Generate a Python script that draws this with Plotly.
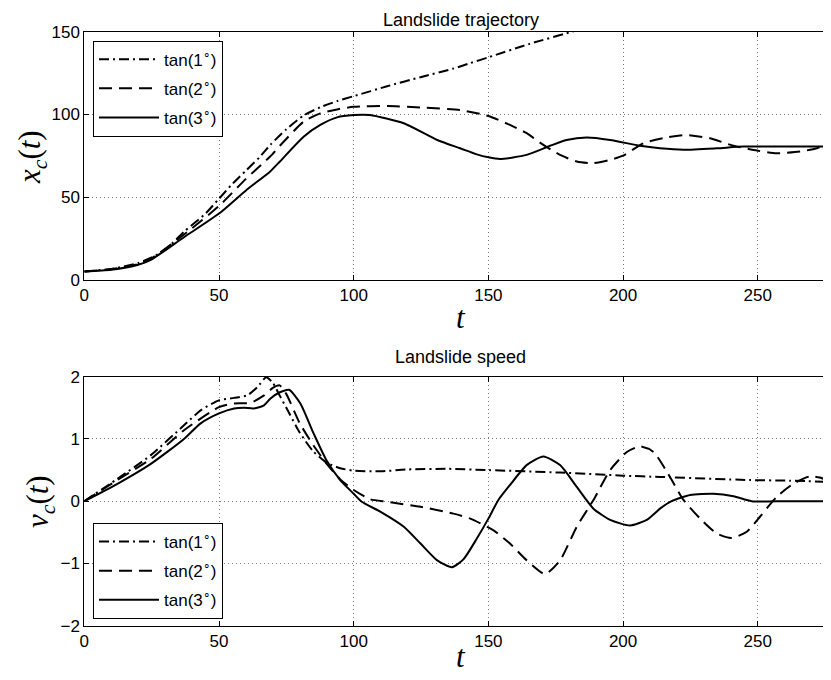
import plotly.graph_objects as go

# ---------------- data: landslide trajectory x_c(t) ----------------
t_x1 = [0, 10, 20, 25, 30, 37, 45, 50, 55, 60, 65, 69, 75, 81.4, 87.6, 93.8, 100,
        112.4, 124.8, 137, 143.3, 150, 165, 182.8, 200]
x1 = [5, 6.5, 10, 13.5, 18, 29, 40, 49, 58, 66, 74, 81.5, 91, 99.3, 104.3, 108, 111,
      117, 122.5, 127.7, 131, 134.5, 142.5, 150.8, 158.5]

t_x2 = [0, 10, 20, 25, 37, 50, 60, 69, 72.6, 81.4, 87.6, 93.8, 100, 112.4, 124.8, 139.5,
        150, 158, 164.2, 170.4, 176.6, 182.8, 189, 195.2, 200, 207.5, 216.2, 223.6, 232.3,
        241, 250, 257, 265.7, 271.9, 277.2]
x2 = [5, 6.3, 9.5, 13, 27.3, 44.6, 61, 74.5, 81, 95.6, 100.6, 103, 104.6, 105, 104.2, 102.6,
      99, 93.6, 88.6, 81.5, 75.5, 71.5, 70.5, 72.5, 75, 82.5, 86, 87.5, 85.5,
      81, 78, 76.5, 77.5, 79.5, 82.5]

t_x3 = [0, 10, 20, 24.7, 37, 50, 60, 69, 72.6, 81.4, 87.6, 93.8, 100, 106, 118.6, 131, 139.5,
        145.7, 150, 154.3, 164.2, 172.9, 179, 186.5, 195.2, 206.3, 213.7, 222.4, 234.8,
        244.7, 260, 277.2]
x3 = [5, 6, 9, 12, 25.7, 40, 54, 65.5, 71.5, 86.5, 93.6, 98.2, 99.6, 99.6, 94.6, 84.5, 79.5,
      75.8, 74, 73, 75.5, 81, 84.5, 86, 84.5, 81, 79.5, 78.6, 79.5,
      80.5, 80.5, 80.5]

# ---------------- data: landslide speed v_c(t) ----------------
t_v1 = [0, 12.3, 24.7, 37, 43.2, 50, 55.6, 60.5, 64.2, 67.5, 70, 72.5, 75, 80, 85, 90, 95,
        100, 110, 120, 135, 150, 176.6, 200, 213.7, 247, 262, 277.2]
v1 = [0, 0.36, 0.74, 1.22, 1.46, 1.62, 1.66, 1.7, 1.83, 1.99, 1.9, 1.7, 1.5, 1.1, 0.8, 0.62, 0.53,
      0.49, 0.48, 0.51, 0.52, 0.5, 0.46, 0.41, 0.39, 0.34, 0.33, 0.31]

t_v2 = [0, 12.3, 24.7, 37, 50, 55.6, 61.7, 66.7, 70, 72.5, 75, 80, 85, 90, 95, 100, 106.2,
        112.4, 124.8, 137, 143.3, 151.9, 158, 164.2, 171, 176.6, 182.8, 189, 195.2, 201.4,
        206.3, 211.3, 217.4, 222.4, 228.6, 234.8, 240.3, 245.9, 250.8, 257, 263.2, 269.4,
        273, 277.2]
v2 = [0, 0.34, 0.68, 1.14, 1.51, 1.57, 1.58, 1.7, 1.82, 1.86, 1.72, 1.25, 0.9, 0.6, 0.35, 0.18,
      0.03, -0.01, -0.09, -0.2, -0.28, -0.47, -0.68, -0.95, -1.17, -0.95, -0.41, 0.02, 0.5,
      0.79, 0.88, 0.79, 0.39, 0.02, -0.28, -0.52, -0.59, -0.49, -0.25, 0.07, 0.28, 0.4,
      0.38, 0.31]

t_v3 = [0, 12.3, 24.7, 37, 43.2, 50, 55.6, 59.3, 63, 66.7, 69.1, 72.6, 76, 80.2, 85.1, 90.1,
        95, 100, 103, 110, 118.6, 124.8, 131, 136.5, 140.8, 145.7, 150, 153.7, 158, 164.2,
        170.4, 176.6, 182.8, 189, 195.2, 202.6, 208.8, 213.7, 218, 224.9, 233.5, 241, 247.7,
        260, 277.2]
v3 = [0, 0.28, 0.6, 1.0, 1.25, 1.41, 1.49, 1.5, 1.49, 1.54, 1.65, 1.75, 1.79, 1.57, 1.09, 0.64,
      0.34, 0.12, -0.01, -0.17, -0.41, -0.68, -0.95, -1.06, -0.93, -0.6, -0.28, 0.02, 0.26, 0.58,
      0.72, 0.58, 0.23, -0.12, -0.3, -0.39, -0.3, -0.12, 0.0, 0.1, 0.12, 0.08, 0.0,
      0.0, 0.0]

labels = ["tan(1<sup>∘</sup>)", "tan(2<sup>∘</sup>)", "tan(3<sup>∘</sup>)"]
x_ticks = [0, 50, 100, 150, 200, 250]

# page body adds an 8px margin; positions below are reference pixels minus that offset
OFF = 8
W, H = 831, 680
def px(x):
    return (x - OFF) / W
def py(y):
    return 1 - (y - OFF) / H

left, right = 84.3, 831
top1, bot1 = 31.7, 279.7
top2, bot2 = 376.7, 625.7

dash_dd = "10px,4px,2px,4px"
dash_d = "13px,7px"
styles = [dash_dd, dash_d, "solid"]

fig = go.Figure()
for i, (t, x) in enumerate([(t_x1, x1), (t_x2, x2), (t_x3, x3)]):
    fig.add_trace(go.Scatter(x=t, y=x, mode="lines", name=labels[i],
                             line=dict(color="black", width=2, dash=styles[i],
                                       shape="spline", smoothing=0.6),
                             xaxis="x", yaxis="y", legend="legend",
                             legendgroup="a%d" % i))
for i, (t, v) in enumerate([(t_v1, v1), (t_v2, v2), (t_v3, v3)]):
    fig.add_trace(go.Scatter(x=t, y=v, mode="lines", name=labels[i],
                             line=dict(color="black", width=2, dash=styles[i],
                                       shape="spline", smoothing=0.6),
                             xaxis="x2", yaxis="y2", legend="legend2",
                             legendgroup="b%d" % i))

font_tick = dict(family="Liberation Sans, Arial, sans-serif", size=17, color="black")
xdom = [px(left), px(right)]

def xa(anchor):
    return dict(domain=xdom, range=[0, (right - left) / 2.694], anchor=anchor,
                tickvals=x_ticks, ticks="inside", ticklen=5, tickcolor="black",
                showline=True, linecolor="black", linewidth=1, mirror="ticks",
                showgrid=True, gridcolor="#777", griddash="1px,3px", gridwidth=1,
                zeroline=False, tickfont=font_tick, automargin=False)

def ya(anchor, dom, rng, dtick):
    return dict(domain=dom, range=rng, anchor=anchor, dtick=dtick,
                ticks="inside", ticklen=5, tickcolor="black",
                showline=True, linecolor="black", linewidth=1, mirror=False,
                showgrid=True, gridcolor="#777", griddash="1px,3px", gridwidth=1,
                zeroline=False, tickfont=font_tick, automargin=False)

leg = dict(x=px(93), xanchor="left", yanchor="top", bgcolor="white",
           bordercolor="black", borderwidth=1, font=font_tick,
           traceorder="grouped", tracegroupgap=4, itemwidth=60)

fig.update_layout(
    width=W, height=H, margin=dict(l=0, r=0, t=0, b=0),
    paper_bgcolor="white", plot_bgcolor="white",
    xaxis=xa("y"),
    yaxis=ya("x", [py(bot1), py(top1)], [0, 150], 50),
    xaxis2=xa("y2"),
    yaxis2=ya("x2", [py(bot2), py(top2)], [-2, 2], 1),
    legend=dict(leg, y=py(40.7)),
    legend2=dict(leg, y=py(523)),
    showlegend=True,
)

title_font = dict(family="Liberation Sans, Arial, sans-serif", size=18, color="black")
math_font = dict(family="Liberation Serif, Times New Roman, serif", size=31, color="black")
xc = px((left + right) / 2 + 3)
ann = [
    dict(text="Landslide trajectory", x=xc, y=py(8), font=title_font, yanchor="top"),
    dict(text="Landslide speed", x=xc, y=py(357), font=title_font),
    dict(text="<i>x<sub>c</sub></i>(<i>t</i>)", x=px(32), y=py(157),
         font=math_font, textangle=-90),
    dict(text="<i>v<sub>c</sub></i>(<i>t</i>)", x=px(40), y=py(502),
         font=math_font, textangle=-90),
    dict(text="<i>t</i>", x=px(460.7), y=py(318), font=math_font),
    dict(text="<i>t</i>", x=px(460.7), y=py(656), font=math_font),
]
for a in ann:
    a.setdefault("yanchor", "middle")
    a.update(xref="paper", yref="paper", showarrow=False, xanchor="center")
fig.update_layout(annotations=ann)

fig.write_html("out.html")
